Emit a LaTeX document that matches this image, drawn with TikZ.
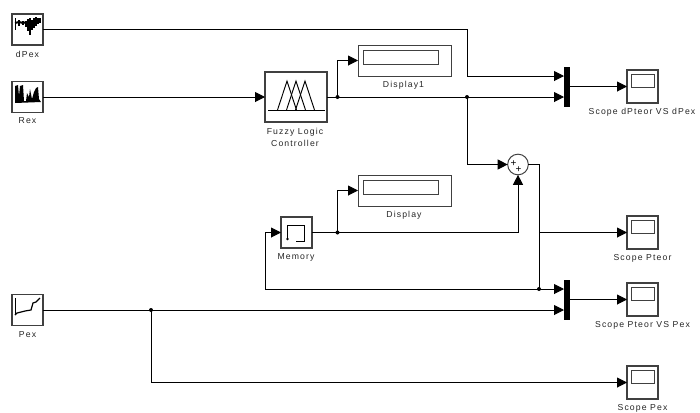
\documentclass[tikz,border=0pt]{standalone}
\usepackage{fontspec}
\setmainfont{Liberation Sans}[LetterSpace=13]
\usetikzlibrary{arrows.meta}
\definecolor{edgegray}{gray}{0.25}
\tikzset{
  sig/.style={line width=0.75pt,-{Triangle[length=7.5pt,width=7.5pt]}},
  wire/.style={line width=0.75pt},
  block/.style={draw=edgegray,line width=1pt,fill=white,inner sep=0pt,outer sep=0pt},
  srcblock/.style={block,minimum width=23.25pt,minimum height=23.25pt},
  scopeblock/.style={block,line width=0.9pt,minimum width=23.25pt,minimum height=24.75pt},
  dispblock/.style={block,line width=0.75pt,minimum width=69.75pt,minimum height=23.25pt},
  muxbar/.style={fill=black,inner sep=0pt,outer sep=0pt,minimum width=4.5pt,minimum height=30pt},
  tag/.style={inner sep=0pt,font=\fontsize{6.5pt}{9.5pt}\selectfont,align=center,text=black!85},
}
\begin{document}
\begin{tikzpicture}[x=0.75pt,y=-0.75pt]
  \useasboundingbox (0,0) rectangle (700,412);
  % sources
  \node[srcblock] (dPex) at (27.5,29.5) {};
  \node[srcblock] (Rex) at (27.5,97) {};
  \node[srcblock] (Pex) at (27.5,310) {};
  \node[tag] (dPexname) at (27.5,54) {dPex};
  \node[tag] (Rexname) at (27.5,121) {Rex};
  \node[tag] (Pexname) at (27.5,335) {Pex};
  % middle blocks
  \node[block,minimum width=46.5pt,minimum height=37.5pt] (fuzzy) at (296,97) {};
  \node[tag] (fuzzyname) at (295,137.5) {Fuzzy Logic\\Controller};
  \node[dispblock] (disp1) at (404.5,60.5) {};
  \node[tag] (disp1name) at (403.5,85) {Display1};
  \node[dispblock] (disp) at (404.5,190.5) {};
  \node[tag] (dispname) at (404,215) {Display};
  \node[srcblock] (mem) at (296.5,232.5) {};
  \node[tag] (memname) at (296,257) {Memory};
  \node[draw=edgegray,line width=0.75pt,circle,inner sep=0pt,outer sep=0pt,minimum size=15.5pt] (sum) at (518,164.5) {};
  \node[inner sep=0pt,font=\fontsize{7.5pt}{7.5pt}\selectfont] (plusa) at (513.5,164) {+};
  \node[inner sep=0pt,font=\fontsize{7.5pt}{7.5pt}\selectfont] (plusb) at (518.5,170) {+};
  % mux and scopes
  \node[muxbar] (muxa) at (567,86.5) {};
  \node[muxbar] (muxb) at (567,299.5) {};
  \node[scopeblock] (scopea) at (642.5,86.5) {};
  \node[scopeblock] (scopeb) at (642.5,232.5) {};
  \node[scopeblock] (scopec) at (642.5,299.5) {};
  \node[scopeblock] (scoped) at (642.5,382.5) {};
  \node[tag] (scopeaname) at (642,112) {Scope dPteor VS dPex};
  \node[tag] (scopebname) at (642.5,258) {Scope Pteor};
  \node[tag] (scopecname) at (642.5,325) {Scope Pteor VS Pex};
  \node[tag] (scopedname) at (642.5,408) {Scope Pex};
  % branch points
  \coordinate (jfuzzy) at (337.5,97);
  \coordinate (jmux) at (467,97);
  \coordinate (jmem) at (337.5,232.5);
  \coordinate (jout) at (539,232.5);
  \coordinate (jback) at (539,289);
  \coordinate (jpex) at (151,310);
  \coordinate (bendback) at (265,289);
  \coordinate (binup) at (467,76);
  % signals
  \draw[sig] (dPex.east) -| (binup) -- (muxa.west |- binup);
  \draw[sig] (Rex.east) -- (fuzzy.west);
  \draw[sig] (fuzzy.east) -- (muxa.west |- jmux);
  \draw[sig] (jfuzzy) |- (disp1.west);
  \draw[sig] (jmux) |- (sum.west);
  \draw[sig] (mem.east) -| (sum.south);
  \draw[sig] (jmem) |- (disp.west);
  \draw[wire] (sum.east) -| (jback);
  \draw[sig] (jout) -- (jout -| scopeb.west);
  \draw[sig] (jback) -- (muxb.west |- jback);
  \draw[wire] (jback) -- (bendback);
  \draw[sig] (bendback) |- (mem.west);
  \draw[sig] (Pex.east) -- (muxb.west |- Pex.east);
  \draw[sig] (jpex) |- (scoped.west);
  \draw[sig] (muxa.east) -- (scopea.west);
  \draw[sig] (muxb.east) -- (scopec.west);
  \foreach \j in {jfuzzy,jmux,jmem,jback,jpex} \fill (\j) circle (1.5pt);
  % icons
  \foreach \s in {disp1,disp}
    \draw[draw=edgegray,line width=0.75pt] ([shift={(5,5)}]\s.north west) rectangle ([shift={(-13,-12)}]\s.south east);
  \foreach \s in {scopea,scopeb,scopec,scoped}
    \draw[draw=edgegray,line width=0.75pt] ([shift={(4,4)}]\s.north west) rectangle ([shift={(-4,17)}]\s.north east);
  \draw[line width=0.7pt] (15,18)--(15,30);
  \draw[line width=1.5pt] (15,23)--(19,22)--(23,23)--(27,22)--(31,23)--(35,22)--(40,21);
  \draw[line width=0.8pt] (19,20)--(19,26) (23,21)--(23,25) (26,21)--(26,27) (28,19)--(28,31) (30,18)--(30,35) (32,20)--(32,30) (34,18)--(34,28) (36,17)--(36,26) (38,18)--(38,24) (40,18)--(40,23);
  \fill (15,103)--(15,86)--(18,85)--(19,96)--(20,86)--(23,85)--(24,101)--(26,101)--(27,93)--(29,97)--(30,89)--(32,99)--(34,92)--(36,88)--(38,87)--(39,99)--(41,102)--cycle;
  \draw[line width=0.6pt] (15,298)--(15,315);
  \draw[line width=0.9pt] (15,315)--(17,313)--(25,311)--(31,310)--(33,303)--(36,302)--(40,298);
  \draw[line width=0.7pt] (268,110)--(325,110);
  \foreach \a in {287,296,305} \draw[line width=0.7pt] (\a-9.5,110)--(\a,81)--(\a+9.5,110);
  \draw[line width=0.7pt] (296,241)--(304,241)--(304,225)--(287,225)--(287,239);
  \fill (287.5,239) circle (1.1pt);
\end{tikzpicture}
\end{document}
